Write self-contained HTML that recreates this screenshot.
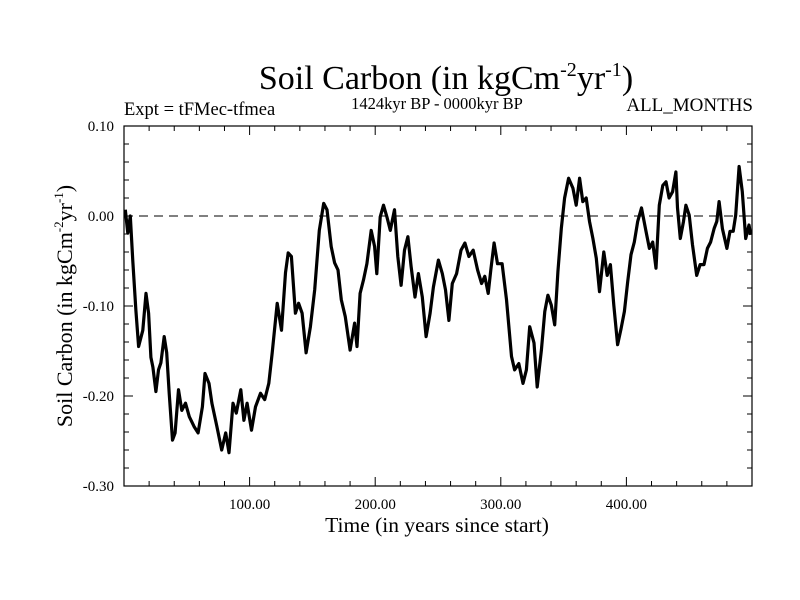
<!DOCTYPE html>
<html><head><meta charset="utf-8"><style>
html,body{margin:0;padding:0;background:#fff;width:800px;height:600px;overflow:hidden}
text{font-family:"Liberation Serif",serif;fill:#000}
</style></head><body>
<svg id="chart" width="800" height="600" xmlns="http://www.w3.org/2000/svg">
<text x="446" y="89" font-size="34" text-anchor="middle">Soil Carbon (in kgCm<tspan font-size="20" dy="-13">-2</tspan><tspan dy="13">yr</tspan><tspan font-size="20" dy="-13">-1</tspan><tspan dy="13">)</tspan></text>
<text x="124" y="115" font-size="18.5">Expt = tFMec-tfmea</text>
<text x="437" y="109" font-size="16.5" text-anchor="middle">1424kyr BP - 0000kyr BP</text>
<text x="753" y="111" font-size="19" text-anchor="end">ALL_MONTHS</text>
<text x="437" y="532" font-size="21.5" text-anchor="middle">Time (in years since start)</text>
<text transform="translate(72,306) rotate(-90)" font-size="22" text-anchor="middle">Soil Carbon (in kgCm<tspan font-size="13" dy="-9">-2</tspan><tspan dy="9">yr</tspan><tspan font-size="13" dy="-9">-1</tspan><tspan dy="9">)</tspan></text>
<g id="axes"></g>
<g id="series"></g>
<rect x="124" y="126" width="628" height="360" fill="none" stroke="#000" stroke-width="1.2"/>
</svg>
<script>
const times=[1,3,5,7,9.5,11.6,15,17.5,19.6,21.4,23,25.4,27.5,29.4,32,34,36,38.6,40.7,43.4,46,49,52,55.8,59,62.4,64.5,67.7,70,74,77.8,81,83.6,86.8,89.4,93,95.5,98,101.5,104.7,108.7,112,115.3,118,122,125.4,128.6,130.7,133.3,136.5,139,141.8,145,148.4,151.8,155.5,159,161.6,165,167.7,170.4,173,176.2,180,183.6,185.5,188,190.7,193.4,196.8,199.5,201.3,204,206.6,209.3,212,215.4,218,220.6,223.3,226,228.6,231.7,234.4,237.5,240.5,243.7,246.3,250.3,253.4,256,258.7,261.4,264.8,268.3,271.4,274.6,278,281.5,284.7,287.3,290,292,294.7,297.4,301,304.5,308.5,311,314.3,317.7,320.4,323,326.4,329,332.3,335,337.5,340.2,342.9,345.5,348.2,350.8,354,357.4,360,362.7,365.3,368,370.6,373.3,376,378.6,382,384.7,387.3,390,393,395.8,398.4,401,403.7,406.3,409,412,415.6,418.3,420.9,423.6,426.2,429,431.5,434,436.8,439.4,440.7,442.9,445.5,447.4,450,452.6,456,458.7,461.8,464.5,467,469.8,472,473.8,476.4,480,482.5,485,487,489.7,492.3,495,497.6,499];
const values=[0.007,-0.019,0.0,-0.05,-0.105,-0.145,-0.127,-0.086,-0.108,-0.157,-0.168,-0.195,-0.171,-0.163,-0.134,-0.152,-0.197,-0.249,-0.241,-0.193,-0.216,-0.208,-0.223,-0.234,-0.241,-0.212,-0.175,-0.186,-0.208,-0.234,-0.26,-0.241,-0.263,-0.208,-0.219,-0.193,-0.227,-0.208,-0.238,-0.212,-0.197,-0.204,-0.186,-0.152,-0.097,-0.127,-0.063,-0.041,-0.045,-0.108,-0.097,-0.108,-0.152,-0.123,-0.082,-0.016,0.014,0.007,-0.034,-0.052,-0.06,-0.093,-0.112,-0.149,-0.119,-0.145,-0.086,-0.071,-0.053,-0.016,-0.034,-0.064,-0.001,0.012,-0.001,-0.016,0.007,-0.045,-0.077,-0.038,-0.023,-0.056,-0.09,-0.064,-0.09,-0.134,-0.108,-0.079,-0.049,-0.064,-0.082,-0.116,-0.075,-0.064,-0.038,-0.03,-0.045,-0.038,-0.06,-0.075,-0.067,-0.086,-0.06,-0.03,-0.053,-0.053,-0.093,-0.156,-0.171,-0.164,-0.186,-0.171,-0.123,-0.141,-0.19,-0.149,-0.106,-0.088,-0.099,-0.121,-0.062,-0.014,0.02,0.042,0.031,0.012,0.042,0.016,0.02,-0.006,-0.025,-0.047,-0.084,-0.04,-0.066,-0.054,-0.099,-0.143,-0.125,-0.106,-0.073,-0.043,-0.029,-0.006,0.009,-0.017,-0.036,-0.029,-0.058,0.012,0.034,0.038,0.02,0.027,0.049,0.009,-0.025,-0.006,0.012,0.001,-0.032,-0.066,-0.054,-0.054,-0.036,-0.029,-0.014,-0.006,0.016,-0.014,-0.036,-0.017,-0.017,0.001,0.055,0.027,-0.025,-0.01,-0.021];
const xTicks=[100,200,300,400];
const xTickLabels=["100.00","200.00","300.00","400.00"];
const yTicks=[0.1,0,-0.1,-0.2,-0.3];
const yTickLabels=["0.10","0.00","-0.10","-0.20","-0.30"];
const X0=124,X1=752,Y0=126,Y1=486,XMIN=0,XMAX=500,YMIN=-0.3,YMAX=0.1;
function xs(t){return X0+(t-XMIN)/(XMAX-XMIN)*(X1-X0);}
function ys(v){return Y1-(v-YMIN)/(YMAX-YMIN)*(Y1-Y0);}
const NS="http://www.w3.org/2000/svg";
const axes=document.getElementById('axes');
function mk(tag,attrs,parent){const e=document.createElementNS(NS,tag);for(const k in attrs)e.setAttribute(k,attrs[k]);parent.appendChild(e);return e;}
let d="";
for(let t=20;t<XMAX;t+=20){const x=xs(t);const L=(t%100===0)?9:5;d+=`M${x},${Y1}v${-L}M${x},${Y0}v${L}`;}
for(let i=0;i<=20;i++){const v=YMIN+i*0.02;const y=ys(v);const L=(i%5===0)?9:5;d+=`M${X0},${y}h${L}M${X1},${y}h${-L}`;}
const tk=mk('path',{d:d,stroke:'#000','stroke-width':1,fill:'none'},axes);


xTicks.forEach((t,i)=>{const e=mk('text',{x:xs(t),y:509,'font-size':15,'text-anchor':'middle'},axes);e.textContent=xTickLabels[i];

});
yTicks.forEach((v,i)=>{const e=mk('text',{x:114,y:ys(v)+5,'font-size':15,'text-anchor':'end'},axes);e.textContent=yTickLabels[i];

});
const zl=mk('line',{x1:X0,x2:X1,y1:ys(0),y2:ys(0),stroke:'#000','stroke-width':1,'stroke-dasharray':'9,6'},axes);


let p="";times.forEach((t,i)=>{p+=(i?"L":"M")+xs(t).toFixed(1)+","+ys(values[i]).toFixed(1);});
const ln=mk('path',{d:p,stroke:'#000','stroke-width':3.2,fill:'none','stroke-linejoin':'round'},document.getElementById('series'));


</script>
</body></html>
